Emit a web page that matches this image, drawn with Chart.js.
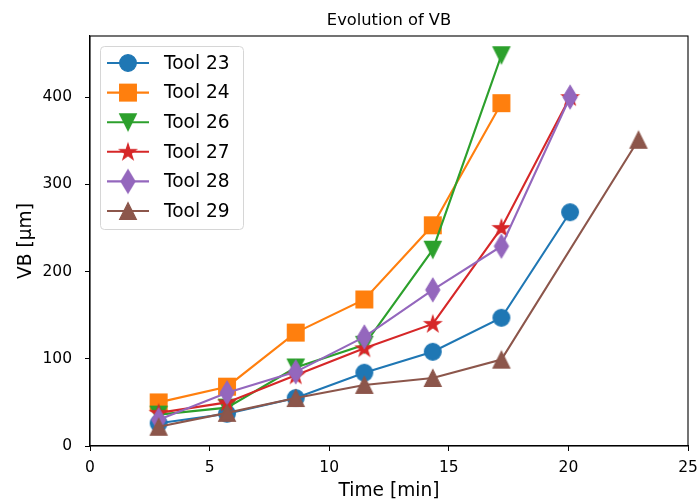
<!DOCTYPE html>
<html>
<head>
<meta charset="utf-8">
<script src="https://cdn.jsdelivr.net/npm/chart.js@4.4.1/dist/chart.umd.min.js"></script>
<style>
  html, body { margin: 0; padding: 0; background: #fff; }
  #wrap { width: 700px; height: 502px; }
</style>
</head>
<body>
<div id="wrap"><canvas id="vbChart" width="700" height="502"></canvas></div>
<script>
// Data
const times = [2.87, 5.73, 8.6, 11.47, 14.33, 17.2, 20.07, 22.93];
const toolNames = ['Tool 23', 'Tool 24', 'Tool 26', 'Tool 27', 'Tool 28', 'Tool 29'];
const tool23 = [26, 37, 55, 84, 108, 147, 268, null];
const tool24 = [50, 68, 130, 168, 253, 393, null, null];
const tool26 = [36, 44, 90, 116, 225, 448, null, null];
const tool27 = [38, 50, 81, 112, 140, 250, 400, null];
const tool28 = [30, 61, 85, 125, 179, 229, 400, null];
const tool29 = [22, 38, 55, 70, 78, 99, null, 351];
const xTicks = [0, 5, 10, 15, 20, 25];
const yTicks = [0, 100, 200, 300, 400];

const colors = ['#1f77b4', '#ff7f0e', '#2ca02c', '#d62728', '#9467bd', '#8c564b'];
const shapes = ['circle', 'square', 'triDown', 'star', 'thinDiamond', 'triUp'];
const FONT = "'DejaVu Sans', sans-serif";

// build a marker image like the matplotlib ones
function makeMarker(shape, color) {
  const c = document.createElement('canvas');
  c.width = 28; c.height = 28;
  const g = c.getContext('2d');
  const m = 14, h = 8.35;
  g.fillStyle = color;
  g.strokeStyle = color;
  g.lineWidth = 1.2;
  g.lineJoin = 'miter';
  g.beginPath();
  if (shape === 'circle') {
    g.arc(m, m, h, 0, Math.PI * 2);
  } else if (shape === 'square') {
    g.rect(m - h, m - h, 2 * h, 2 * h);
  } else if (shape === 'triDown') {
    g.moveTo(m, m + h); g.lineTo(m - h, m - h); g.lineTo(m + h, m - h); g.closePath();
  } else if (shape === 'triUp') {
    g.moveTo(m, m - h); g.lineTo(m - h, m + h); g.lineTo(m + h, m + h); g.closePath();
  } else if (shape === 'star') {
    const R = 8.6, r = R * 0.382;
    for (let i = 0; i < 10; i++) {
      const rad = i % 2 === 0 ? R : r;
      const a = -Math.PI / 2 + i * Math.PI / 5;
      const px = m + rad * Math.cos(a), py = m + 0.5 + rad * Math.sin(a);
      if (i === 0) g.moveTo(px, py); else g.lineTo(px, py);
    }
    g.closePath();
  } else if (shape === 'thinDiamond') {
    g.moveTo(m, m - 11.6); g.lineTo(m + 7, m); g.lineTo(m, m + 11.6); g.lineTo(m - 7, m); g.closePath();
  }
  g.fill();
  g.stroke();
  return c;
}

const seriesValues = [tool23, tool24, tool26, tool27, tool28, tool29];
const markers = shapes.map((s, i) => makeMarker(s, colors[i]));

const datasets = seriesValues.map((vals, i) => ({
  label: toolNames[i],
  data: times.map((t, j) => vals[j] == null ? null : { x: t, y: vals[j] }).filter(p => p),
  borderColor: colors[i],
  backgroundColor: colors[i],
  borderWidth: 2.1,
  pointStyle: markers[i],
  pointRadius: 8,
  pointHoverRadius: 8,
  tension: 0,
  fill: false,
  order: seriesValues.length - i
}));

// axes frame, title and matplotlib-like legend
const framePlugin = {
  id: 'frame',
  afterDraw(chart) {
    const ctx = chart.ctx;
    const a = chart.chartArea;
    ctx.save();
    ctx.strokeStyle = '#000';
    ctx.lineWidth = 1.1;
    ctx.strokeRect(a.left, a.top, a.right - a.left, a.bottom - a.top);
    ctx.fillStyle = '#000';
    ctx.font = '16.3px ' + FONT;
    ctx.textAlign = 'center';
    ctx.textBaseline = 'middle';
    ctx.fillText('Evolution of VB', (a.left + a.right) / 2, 21);
    ctx.restore();
  },
  afterDatasetsDraw(chart) {
    const ctx = chart.ctx;
    const a = chart.chartArea;
    const bx = a.left + 10, by = a.top + 10, bw = 143, bh = 183;
    ctx.save();
    ctx.beginPath();
    if (ctx.roundRect) ctx.roundRect(bx + 0.5, by + 0.5, bw, bh, 4);
    else ctx.rect(bx + 0.5, by + 0.5, bw, bh);
    ctx.fillStyle = 'rgba(255,255,255,0.8)';
    ctx.fill();
    ctx.strokeStyle = '#d6d6d6';
    ctx.lineWidth = 1;
    ctx.stroke();
    ctx.font = '18.6px ' + FONT;
    ctx.textBaseline = 'middle';
    ctx.textAlign = 'left';
    chart.data.datasets.forEach((ds, i) => {
      const yy = by + 17 + i * 29.6;
      ctx.strokeStyle = ds.borderColor;
      ctx.lineWidth = 2.1;
      ctx.beginPath();
      ctx.moveTo(bx + 7, yy);
      ctx.lineTo(bx + 49, yy);
      ctx.stroke();
      const img = ds.pointStyle;
      ctx.drawImage(img, bx + 28 - img.width / 2, yy - img.height / 2);
      ctx.fillStyle = '#000';
      ctx.fillText(ds.label, bx + 64, yy + 1);
    });
    ctx.restore();
  }
};

new Chart(document.getElementById('vbChart').getContext('2d'), {
  type: 'line',
  data: { datasets: datasets },
  options: {
    responsive: false,
    animation: false,
    events: [],
    layout: { padding: { top: 36, right: 12, left: 0, bottom: 0 } },
    plugins: {
      legend: { display: false },
      title: { display: false },
      tooltip: { enabled: false }
    },
    scales: {
      x: {
        type: 'linear',
        min: 0,
        max: 25,
        afterBuildTicks: s => { s.ticks = xTicks.map(v => ({ value: v })); },
        afterFit: s => { s.height = 56; s.paddingLeft = 0; s.paddingRight = 0; },
        ticks: { color: '#000', font: { family: FONT, size: 15.5 }, padding: 8, maxRotation: 0 },
        grid: { display: true, drawOnChartArea: false, drawTicks: true, tickLength: 5, color: '#000', tickWidth: 1 },
        border: { display: true, color: '#000', width: 1.1 },
        title: { display: true, text: 'Time [min]', color: '#000', font: { family: FONT, size: 18.6 }, padding: { top: 0, bottom: 0 } }
      },
      y: {
        type: 'linear',
        min: 0,
        max: 470,
        afterBuildTicks: s => { s.ticks = yTicks.map(v => ({ value: v })); },
        afterFit: s => { s.width = 90; s.paddingTop = 0; s.paddingBottom = 0; },
        ticks: { color: '#000', font: { family: FONT, size: 15.5 }, padding: 13 },
        grid: { display: true, drawOnChartArea: false, drawTicks: true, tickLength: 5, color: '#000', tickWidth: 1 },
        border: { display: true, color: '#000', width: 1.1 },
        title: { display: true, text: 'VB [µm]', color: '#000', font: { family: FONT, size: 18.6 }, padding: { top: 15, bottom: 0 } }
      }
    }
  },
  plugins: [framePlugin]
});
</script>
</body>
</html>
